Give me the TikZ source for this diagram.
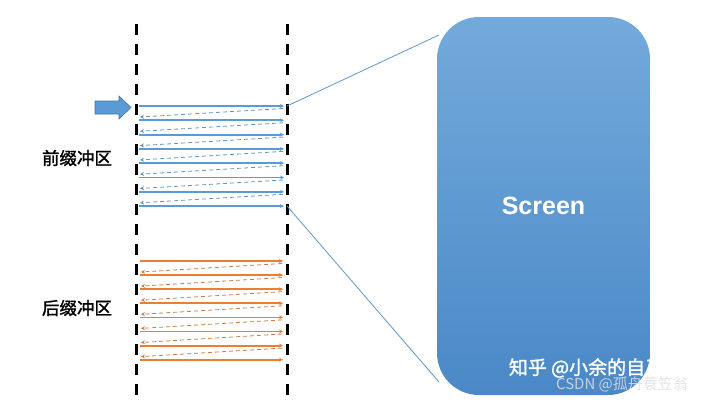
\documentclass[tikz,border=0pt]{standalone}
\usepackage{fontspec}
\setmainfont{Liberation Sans}
\newfontfamily\cjk{Noto Sans CJK SC}[FakeBold=1.6]
\newfontfamily\cjkthin{Noto Sans CJK SC}
\usetikzlibrary{arrows.meta}
\definecolor{fblue}{HTML}{5B9BD5}
\definecolor{forange}{HTML}{ED7D31}
\definecolor{scrtop}{HTML}{73AADB}
\definecolor{scrbot}{HTML}{4A88C7}
\tikzset{
  scan/.style={line width=1.8pt,-{Stealth[length=4pt,width=4pt]}},
  back/.style={line width=0.8pt,dash pattern=on 4pt off 3pt,-{Stealth[length=4pt,width=4pt]}},
  vsync/.style={line width=3pt,dash pattern=on 11pt off 9pt},
  bufname/.style={font=\cjk\fontsize{17.5}{20}\selectfont},
  screen/.style={rounded corners=42pt,minimum width=213pt,minimum height=378pt,
    top color=scrtop,bottom color=scrbot,text=white,inner sep=0pt,
    font=\bfseries\fontsize{25}{30}\selectfont},
}

\begin{document}
\begin{tikzpicture}[x=1pt,y=-1pt]
        \useasboundingbox (0,0) rectangle (720,402);

        \draw[vsync] (136,24) -- (136,402);
        \draw[vsync] (287,24) -- (287,402);

        % front buffer
        \foreach \i in {0,...,7} {
          \draw[scan,fblue] (139,106+14.3*\i) -- (284,106+14.3*\i);
        }
        \foreach \i in {0,...,6} {
          \draw[back,fblue!75!gray] (283,108.5+14.3*\i) -- (140,117+14.3*\i);
        }

        % back buffer
        \foreach \i in {0,...,7} {
          \draw[scan,forange] (140,261+14.1*\i) -- (283,261+14.1*\i);
        }
        \foreach \i in {0,...,6} {
          \draw[back,forange!70!gray] (282,263.5+14.1*\i) -- (141,272+14.1*\i);
        }

        \fill[fblue,draw=fblue!75!black,line width=0.6pt] (95,101) -- (119,101)
        -- (119,96) -- (131,107.5) -- (119,119) -- (119,114) -- (95,114) -- cycle;

        \node[bufname] (front) at (77,158) {前缀冲区};
        \node[bufname] (back) at (77,308) {后缀冲区};

        \coordinate (ftop) at (287,106);
        \coordinate (fbot) at (287,206);
        \coordinate (stop) at (439,35);
        \coordinate (sbot) at (439,382);
        \draw[fblue!85!gray,line width=0.8pt] (ftop) -- (stop);
        \draw[fblue!85!gray,line width=0.8pt] (fbot) -- (sbot);

        \node[screen] (screen) at (543.5,206) {Screen};

        % watermarks
        \node[font=\cjk\fontsize{19}{22}\selectfont,text=white] (zhihu) at (596,368)
        {知乎 @小余的自习室};
        \node[font=\cjkthin\fontsize{15}{18}\selectfont,text=white!75!gray,opacity=0.85]
        (csdn) at (622,384) {CSDN @孤舟蓑笠翁};
      \end{tikzpicture}
\end{document}
